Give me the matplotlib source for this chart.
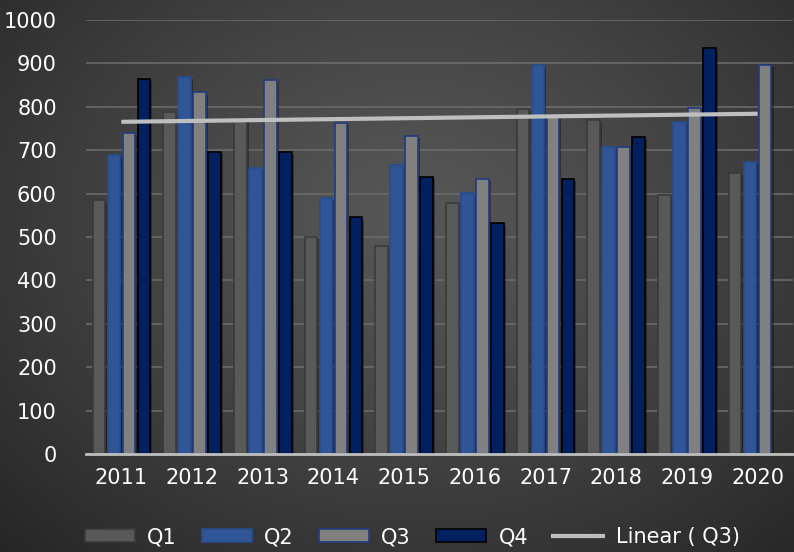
import numpy as np
import matplotlib
matplotlib.use("Agg")
import matplotlib.pyplot as plt
from matplotlib.patches import Patch
from matplotlib.lines import Line2D
import matplotlib.patheffects as pe

years = ["2011", "2012", "2013", "2014", "2015", "2016", "2017", "2018", "2019", "2020"]
q1 = [586, 787, 773, 501, 479, 578, 796, 770, 597, 647]
q2 = [689, 869, 660, 591, 667, 601, 896, 708, 764, 672]
q3 = [740, 833, 862, 763, 733, 634, 780, 708, 798, 896]
q4 = [864, 697, 695, 545, 639, 532, 633, 731, 935, np.nan]
series_names = ["Q1", "Q2", "Q3", "Q4"]
yticks = [0, 100, 200, 300, 400, 500, 600, 700, 800, 900, 1000]

plt.rcParams['font.family'] = ['DejaVu Sans']

W, H = 794, 552
fig = plt.figure(figsize=(W / 100, H / 100), dpi=100)

# radial gradient background
bg = fig.add_axes([0, 0, 1, 1], zorder=-10)
yy, xx = np.mgrid[0:H, 0:W]
cx, cy = W * 0.52, H * 0.40
r = np.sqrt(((xx - cx) / (W * 0.75)) ** 2 + ((yy - cy) / (H * 0.85)) ** 2)
r = np.clip(r, 0, 1)
c0, c1 = 0x57 / 255, 0x25 / 255
val = c0 + (c1 - c0) * r ** 1.2
img = np.dstack([val, val, val])
bg.imshow(img, aspect='auto', extent=[0, 1, 0, 1], origin='upper')
bg.axis('off')

ax = fig.add_axes([86 / W, 1 - 454 / H, (793 - 86) / W, (454 - 20) / H])
ax.patch.set_alpha(0)

x = np.arange(len(years))
step = 0.212
width = 0.178
fills = ["#595959", "#2F5597", "#808080", "#002060"]
edges = ["#3a3a3a", "#2a4d8c", "#1f3b80", "#000000"]
shadow = [pe.SimplePatchShadow(offset=(1.5, -1.5), shadow_rgbFace='black', alpha=0.35), pe.Normal()]
for i, (vals, name) in enumerate(zip([q1, q2, q3, q4], series_names)):
    ax.bar(x + (i - 1.5) * step, vals, width, color=fills[i], edgecolor=edges[i],
           linewidth=1.2, zorder=3, path_effects=shadow)

# linear trendline for Q3
coef = np.polyfit(x, q3, 1)
ax.plot(x, np.polyval(coef, x), color="#BFBFBF", lw=3, zorder=5, solid_capstyle='butt')

ax.set_xlim(-0.5, len(years) - 0.5)
ax.set_ylim(0, 1000)
ax.set_yticks(yticks)
ax.set_xticks(x)
ax.set_xticklabels(years)
ax.tick_params(axis='both', length=0, colors='white', labelsize=15)
ax.tick_params(axis='y', pad=21)
ax.tick_params(axis='x', pad=10)
ax.grid(axis='y', color="#6a6a6a", lw=1.2, zorder=0)
ax.set_axisbelow(True)
for s in ['top', 'right', 'left']:
    ax.spines[s].set_visible(False)
ax.spines['bottom'].set_color("#BFBFBF")
ax.spines['bottom'].set_linewidth(2)
ax.spines['bottom'].set_zorder(6)

handles = [Patch(facecolor=fills[i], edgecolor=edges[i], linewidth=1.2, label=series_names[i]) for i in range(4)]
handles.append(Line2D([0], [0], color="#BFBFBF", lw=3, label="Linear ( Q3)"))
leg = fig.legend(handles=handles, loc='center', bbox_to_anchor=(412 / W, 1 - 537 / H), ncol=5,
                 frameon=False, fontsize=15, handlelength=2.4, handleheight=0.55,
                 columnspacing=1.2, handletextpad=0.6, labelcolor='white')

fig.savefig("out.png", dpi=100)
